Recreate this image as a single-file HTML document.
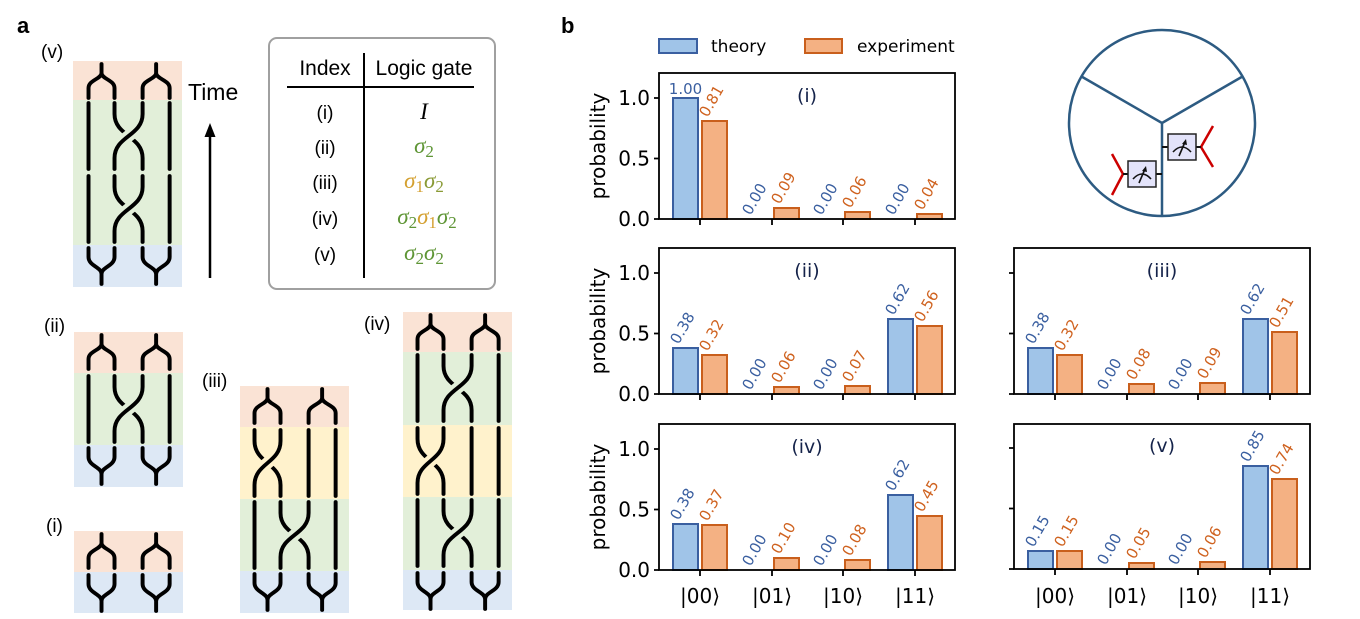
<!DOCTYPE html>
<html><head><meta charset="utf-8"><style>
html,body{margin:0;padding:0;background:#fff;}
svg{display:block;}
.t{font-family:"DejaVu Sans","Liberation Sans",sans-serif;}
.a{font-family:"Liberation Sans","DejaVu Sans",sans-serif;}
.bt{fill:#a0c4e8;stroke:#3a5fa0;stroke-width:2;}
.be{fill:#f4b183;stroke:#c95f1c;stroke-width:2;}
.lt{fill:#3a5fa0;font-size:15px;}
.le{fill:#cf621f;font-size:15px;}
.br{fill:none;stroke:#000;stroke-width:3.8;stroke-linecap:round;}
</style></head><body>
<svg width="1360" height="619" viewBox="0 0 1360 619" xmlns="http://www.w3.org/2000/svg">
<defs>
<g id="capT">
<path class="br" d="M25.5,3 L25.5,12 C25.5,18 13,19 13,27 L13,37 M25.5,12 C25.5,18 38,19 38,27 L38,37 M78,3 L78,12 C78,18 65,19 65,27 L65,37 M78,12 C78,18 91,19 91,27 L91,37"/>
</g>
<g id="capB">
<path class="br" d="M13,3 L13,12 C13,21 25.5,22 25.5,29 L25.5,39 M38,3 L38,12 C38,21 25.5,22 25.5,29 M65,3 L65,12 C65,21 78,22 78,29 L78,39 M91,3 L91,12 C91,21 78,22 78,29"/>
</g>
<g id="s2">
<path class="br" d="M13,3 L13,69 M91,3 L91,69 M38,3 L38,14 C38,36 65,36 65,58 L65,69"/>
<path d="M65,10 L65,14 C65,36 38,36 38,58 L38,62" fill="none" stroke="#e2efd9" stroke-width="12"/>
<path class="br" d="M65,3 L65,14 C65,36 38,36 38,58 L38,69"/>
</g>
<g id="s1">
<path class="br" d="M65,3 L65,69 M91,3 L91,69 M13,3 L13,14 C13,36 38,36 38,58 L38,69"/>
<path d="M38,10 L38,14 C38,36 13,36 13,58 L13,62" fill="none" stroke="#fff2cc" stroke-width="12"/>
<path class="br" d="M38,3 L38,14 C38,36 13,36 13,58 L13,69"/>
</g>
</defs>

<text x="17" y="33" class="a" font-size="22" font-weight="bold">a</text>
<text x="561" y="33" class="a" font-size="22" font-weight="bold">b</text>

<!-- (v) -->
<text x="41" y="58" class="a" font-size="19">(v)</text>
<rect x="73" y="61" width="109" height="39" fill="#fae3d5"/>
<rect x="73" y="100" width="109" height="145" fill="#e2efd9"/>
<rect x="73" y="245" width="109" height="42" fill="#dde8f5"/>
<g transform="translate(75,0) scale(1.04,1)">
<use href="#capT" y="61"/>
<use href="#s2" y="100"/>
<use href="#s2" y="173"/>
<use href="#capB" y="245"/>
</g>

<text x="188" y="100" class="a" font-size="23">Time</text>
<line x1="210" y1="278" x2="210" y2="136" stroke="#000" stroke-width="2.5"/>
<polygon points="210,123 204.5,137 215.5,137" fill="#000"/>

<!-- table -->
<rect x="269" y="38" width="226" height="251" rx="8" fill="#fff" stroke="#a0a0a0" stroke-width="2"/>
<text x="325" y="75" class="a" font-size="21" text-anchor="middle">Index</text>
<text x="424" y="75" class="a" font-size="21" text-anchor="middle">Logic gate</text>
<line x1="287" y1="87" x2="474" y2="87" stroke="#000" stroke-width="2"/>
<line x1="364" y1="53" x2="364" y2="278" stroke="#000" stroke-width="2"/>
<g class="a" font-size="19" text-anchor="middle">
<text x="325" y="119">(i)</text>
<text x="325" y="154">(ii)</text>
<text x="325" y="189">(iii)</text>
<text x="325" y="225">(iv)</text>
<text x="325" y="261">(v)</text>
</g>
<g font-family="Liberation Serif,serif" font-size="23" font-style="italic" text-anchor="middle">
<text x="424" y="119">I</text>
<text x="424" y="153" fill="#5e9535">σ<tspan font-size="17" dy="4" font-style="normal">2</tspan></text>
<text x="424" y="188"><tspan fill="#d4a030">σ</tspan><tspan fill="#d4a030" font-size="17" dy="4" font-style="normal">1</tspan><tspan fill="#8a9a35" dy="-4">σ</tspan><tspan fill="#8a9a35" font-size="17" dy="4" font-style="normal">2</tspan></text>
<text x="427" y="224"><tspan fill="#5e9535">σ</tspan><tspan fill="#5e9535" font-size="17" dy="4" font-style="normal">2</tspan><tspan fill="#d4a030" dy="-4">σ</tspan><tspan fill="#d4a030" font-size="17" dy="4" font-style="normal">1</tspan><tspan fill="#5e9535" dy="-4">σ</tspan><tspan fill="#5e9535" font-size="17" dy="4" font-style="normal">2</tspan></text>
<text x="424" y="260" fill="#5e9535">σ<tspan font-size="17" dy="4" font-style="normal">2</tspan><tspan dy="-4">σ</tspan><tspan font-size="17" dy="4" font-style="normal">2</tspan></text>
</g>

<!-- (ii) -->
<text x="44" y="332" class="a" font-size="19">(ii)</text>
<rect x="74" y="332" width="109" height="41" fill="#fae3d5"/>
<rect x="74" y="373" width="109" height="72" fill="#e2efd9"/>
<rect x="74" y="445" width="109" height="42" fill="#dde8f5"/>
<g transform="translate(75,0) scale(1.04,1)">
<use href="#capT" y="332"/><use href="#s2" y="373"/><use href="#capB" y="445"/>
</g>

<!-- (i) -->
<text x="46" y="532" class="a" font-size="19">(i)</text>
<rect x="74" y="531" width="109" height="41" fill="#fae3d5"/>
<rect x="74" y="572" width="109" height="41" fill="#dde8f5"/>
<g transform="translate(75,0) scale(1.04,1)">
<use href="#capT" y="531"/><use href="#capB" y="572"/>
</g>

<!-- (iii) -->
<text x="202" y="387" class="a" font-size="19">(iii)</text>
<rect x="240" y="386" width="109" height="41" fill="#fae3d5"/>
<rect x="240" y="427" width="109" height="72" fill="#fff2cc"/>
<rect x="240" y="499" width="109" height="72" fill="#e2efd9"/>
<rect x="240" y="571" width="109" height="42" fill="#dde8f5"/>
<g transform="translate(241,0) scale(1.04,1)">
<use href="#capT" y="386"/><use href="#s1" y="427"/><use href="#s2" y="499"/><use href="#capB" y="571"/>
</g>

<!-- (iv) -->
<text x="364" y="330" class="a" font-size="19">(iv)</text>
<rect x="403" y="312" width="109" height="40" fill="#fae3d5"/>
<rect x="403" y="352" width="109" height="73" fill="#e2efd9"/>
<rect x="403" y="425" width="109" height="72" fill="#fff2cc"/>
<rect x="403" y="497" width="109" height="73" fill="#e2efd9"/>
<rect x="403" y="570" width="109" height="40" fill="#dde8f5"/>
<g transform="translate(404,0) scale(1.04,1)">
<use href="#capT" y="312"/><use href="#s2" y="352"/><use href="#s1" y="425"/><use href="#s2" y="497"/><use href="#capB" y="570"/>
</g>

<!-- legend -->
<rect x="659" y="39" width="38" height="14" class="bt"/>
<text x="711" y="52" class="t" font-size="17">theory</text>
<rect x="805" y="39" width="37" height="14" class="be"/>
<text x="857" y="52" class="t" font-size="17">experiment</text>

<!-- circle -->
<g stroke="#2d5b82" stroke-width="2.5" fill="none">
<circle cx="1162" cy="123" r="93"/>
<path d="M1162,123 L1081.5,76.5 M1162,123 L1242.5,76.5 M1162,123 L1162,216"/>
</g>
<g stroke="#c00" stroke-width="2.5" fill="none">
<path d="M1112,154 L1123,174 L1112,195"/>
<path d="M1213,126 L1201,147 L1213,167"/>
</g>
<g stroke="#111" stroke-width="2" fill="none">
<path d="M1123,174 L1128,174 M1156,174 L1162,174 M1162,147 L1168,147 M1196,147 L1201,147"/>
</g>
<rect x="1128" y="161" width="28" height="26" fill="#e3e3fa" stroke="#222" stroke-width="1.5"/>
<rect x="1168" y="134" width="28" height="26" fill="#e3e3fa" stroke="#222" stroke-width="1.5"/>
<g stroke="#111" stroke-width="1.6" fill="none">
<path d="M1133,179 Q1142,169 1151,179"/><path d="M1139,183 L1145,169"/>
<path d="M1173,152 Q1182,142 1191,152"/><path d="M1179,156 L1185,142"/>
</g>
<polygon points="1146,166 1142,171 1147,172" fill="#111"/>
<polygon points="1186,139 1182,144 1187,145" fill="#111"/>

<!-- y labels -->
<g class="t" font-size="20">
<text transform="translate(605,146) rotate(-90)" text-anchor="middle">probability</text>
<text transform="translate(605,321) rotate(-90)" text-anchor="middle">probability</text>
<text transform="translate(605,497) rotate(-90)" text-anchor="middle">probability</text>
</g>

<!-- panel (i) -->
<g transform="translate(659,219)">
<g class="t" font-size="20" text-anchor="end"><text x="-9" y="7">0.0</text><text x="-9" y="-53.5">0.5</text><text x="-9" y="-114">1.0</text></g>
<rect x="14" y="-121" width="25" height="121" class="bt"/>
<rect x="43" y="-98" width="25" height="98" class="be"/>
<rect x="115" y="-11" width="25" height="11" class="be"/>
<rect x="186" y="-7" width="25" height="7" class="be"/>
<rect x="258" y="-5" width="25" height="5" class="be"/>
<text x="26.5" y="-125" class="t lt" text-anchor="middle" font-size="14">1.00</text>
<text transform="translate(48.5,-101) rotate(-60)" class="t le">0.81</text>
<text transform="translate(91.5,-3) rotate(-60)" class="t lt">0.00</text>
<text transform="translate(120.5,-14) rotate(-60)" class="t le">0.09</text>
<text transform="translate(162.5,-3) rotate(-60)" class="t lt">0.00</text>
<text transform="translate(191.5,-10) rotate(-60)" class="t le">0.06</text>
<text transform="translate(234.5,-3) rotate(-60)" class="t lt">0.00</text>
<text transform="translate(263.5,-8) rotate(-60)" class="t le">0.04</text>
<text x="148" y="-117" class="t" font-size="19" fill="#15234a" text-anchor="middle">(i)</text>
<rect x="0" y="-146" width="296" height="146" fill="none" stroke="#000" stroke-width="1.8"/>
<path d="M-5,0 H0 M-5,-60.5 H0 M-5,-121 H0 M41,0 V6 M113,0 V6 M184,0 V6 M256,0 V6" stroke="#000" stroke-width="1.8"/>
</g>

<!-- panel (ii) -->
<g transform="translate(659,394)">
<g class="t" font-size="20" text-anchor="end"><text x="-9" y="7">0.0</text><text x="-9" y="-53.5">0.5</text><text x="-9" y="-114">1.0</text></g>
<rect x="14" y="-46" width="25" height="46" class="bt"/>
<rect x="229" y="-75" width="25" height="75" class="bt"/>
<rect x="43" y="-39" width="25" height="39" class="be"/>
<rect x="115" y="-7" width="25" height="7" class="be"/>
<rect x="186" y="-8" width="25" height="8" class="be"/>
<rect x="258" y="-68" width="25" height="68" class="be"/>
<text transform="translate(19.5,-49) rotate(-60)" class="t lt">0.38</text>
<text transform="translate(48.5,-42) rotate(-60)" class="t le">0.32</text>
<text transform="translate(91.5,-3) rotate(-60)" class="t lt">0.00</text>
<text transform="translate(120.5,-10) rotate(-60)" class="t le">0.06</text>
<text transform="translate(162.5,-3) rotate(-60)" class="t lt">0.00</text>
<text transform="translate(191.5,-11) rotate(-60)" class="t le">0.07</text>
<text transform="translate(234.5,-78) rotate(-60)" class="t lt">0.62</text>
<text transform="translate(263.5,-71) rotate(-60)" class="t le">0.56</text>
<text x="148" y="-117" class="t" font-size="19" fill="#15234a" text-anchor="middle">(ii)</text>
<rect x="0" y="-146" width="296" height="146" fill="none" stroke="#000" stroke-width="1.8"/>
<path d="M-5,0 H0 M-5,-60.5 H0 M-5,-121 H0 M41,0 V6 M113,0 V6 M184,0 V6 M256,0 V6" stroke="#000" stroke-width="1.8"/>
</g>

<!-- panel (iii) -->
<g transform="translate(1014,394)">
<rect x="14" y="-46" width="25" height="46" class="bt"/>
<rect x="229" y="-75" width="25" height="75" class="bt"/>
<rect x="43" y="-39" width="25" height="39" class="be"/>
<rect x="115" y="-10" width="25" height="10" class="be"/>
<rect x="186" y="-11" width="25" height="11" class="be"/>
<rect x="258" y="-62" width="25" height="62" class="be"/>
<text transform="translate(19.5,-49) rotate(-60)" class="t lt">0.38</text>
<text transform="translate(48.5,-42) rotate(-60)" class="t le">0.32</text>
<text transform="translate(91.5,-3) rotate(-60)" class="t lt">0.00</text>
<text transform="translate(120.5,-13) rotate(-60)" class="t le">0.08</text>
<text transform="translate(162.5,-3) rotate(-60)" class="t lt">0.00</text>
<text transform="translate(191.5,-14) rotate(-60)" class="t le">0.09</text>
<text transform="translate(234.5,-78) rotate(-60)" class="t lt">0.62</text>
<text transform="translate(263.5,-65) rotate(-60)" class="t le">0.51</text>
<text x="148" y="-117" class="t" font-size="19" fill="#15234a" text-anchor="middle">(iii)</text>
<rect x="0" y="-146" width="296" height="146" fill="none" stroke="#000" stroke-width="1.8"/>
<path d="M-5,0 H0 M-5,-60.5 H0 M-5,-121 H0 M41,0 V6 M113,0 V6 M184,0 V6 M256,0 V6" stroke="#000" stroke-width="1.8"/>
</g>

<!-- panel (iv) -->
<g transform="translate(659,570)">
<g class="t" font-size="20" text-anchor="end"><text x="-9" y="7">0.0</text><text x="-9" y="-53.5">0.5</text><text x="-9" y="-114">1.0</text></g>
<rect x="14" y="-46" width="25" height="46" class="bt"/>
<rect x="229" y="-75" width="25" height="75" class="bt"/>
<rect x="43" y="-45" width="25" height="45" class="be"/>
<rect x="115" y="-12" width="25" height="12" class="be"/>
<rect x="186" y="-10" width="25" height="10" class="be"/>
<rect x="258" y="-54" width="25" height="54" class="be"/>
<text transform="translate(19.5,-49) rotate(-60)" class="t lt">0.38</text>
<text transform="translate(48.5,-48) rotate(-60)" class="t le">0.37</text>
<text transform="translate(91.5,-3) rotate(-60)" class="t lt">0.00</text>
<text transform="translate(120.5,-15) rotate(-60)" class="t le">0.10</text>
<text transform="translate(162.5,-3) rotate(-60)" class="t lt">0.00</text>
<text transform="translate(191.5,-13) rotate(-60)" class="t le">0.08</text>
<text transform="translate(234.5,-78) rotate(-60)" class="t lt">0.62</text>
<text transform="translate(263.5,-57) rotate(-60)" class="t le">0.45</text>
<text x="148" y="-117" class="t" font-size="19" fill="#15234a" text-anchor="middle">(iv)</text>
<rect x="0" y="-146" width="296" height="146" fill="none" stroke="#000" stroke-width="1.8"/>
<path d="M-5,0 H0 M-5,-60.5 H0 M-5,-121 H0 M41,0 V6 M113,0 V6 M184,0 V6 M256,0 V6" stroke="#000" stroke-width="1.8"/>
<g class="t" font-size="20" text-anchor="middle"><text x="41" y="33">|00⟩</text><text x="113" y="33">|01⟩</text><text x="184" y="33">|10⟩</text><text x="256" y="33">|11⟩</text></g>
</g>

<!-- panel (v) -->
<g transform="translate(1014,569)">
<rect x="14" y="-18" width="25" height="18" class="bt"/>
<rect x="229" y="-103" width="25" height="103" class="bt"/>
<rect x="43" y="-18" width="25" height="18" class="be"/>
<rect x="115" y="-6" width="25" height="6" class="be"/>
<rect x="186" y="-7" width="25" height="7" class="be"/>
<rect x="258" y="-90" width="25" height="90" class="be"/>
<text transform="translate(19.5,-21) rotate(-60)" class="t lt">0.15</text>
<text transform="translate(48.5,-21) rotate(-60)" class="t le">0.15</text>
<text transform="translate(91.5,-3) rotate(-60)" class="t lt">0.00</text>
<text transform="translate(120.5,-9) rotate(-60)" class="t le">0.05</text>
<text transform="translate(162.5,-3) rotate(-60)" class="t lt">0.00</text>
<text transform="translate(191.5,-10) rotate(-60)" class="t le">0.06</text>
<text transform="translate(234.5,-106) rotate(-60)" class="t lt">0.85</text>
<text transform="translate(263.5,-93) rotate(-60)" class="t le">0.74</text>
<text x="148" y="-117" class="t" font-size="19" fill="#15234a" text-anchor="middle">(v)</text>
<rect x="0" y="-145" width="296" height="145" fill="none" stroke="#000" stroke-width="1.8"/>
<path d="M-5,0 H0 M-5,-60.5 H0 M-5,-121 H0 M41,0 V6 M113,0 V6 M184,0 V6 M256,0 V6" stroke="#000" stroke-width="1.8"/>
<g class="t" font-size="20" text-anchor="middle"><text x="41" y="34">|00⟩</text><text x="113" y="34">|01⟩</text><text x="184" y="34">|10⟩</text><text x="256" y="34">|11⟩</text></g>
</g>
</svg>
</body></html>
